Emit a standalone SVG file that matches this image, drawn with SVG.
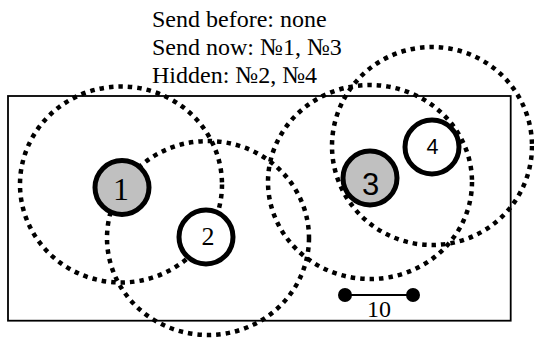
<svg xmlns="http://www.w3.org/2000/svg" width="534" height="338" viewBox="0 0 534 338">
  <style>
    .range { fill: none; stroke: #000; stroke-width: 4.5; stroke-dasharray: 4.5 5; }
    .node { stroke: #000; stroke-width: 5; }
    .active { fill: #c0c0c0; }
    .idle { fill: #fff; }
    text { fill: #000; }
    .rm { font-family: 'Liberation Serif', 'DejaVu Serif', 'Times New Roman', serif; }
    .sf { font-family: 'Liberation Sans', 'DejaVu Sans', Arial, sans-serif; }
  </style>

  <!-- status legend -->
  <g id="legend">
    <text class="rm" x="152" y="27" font-size="24">Send before: none</text>
    <text class="rm" x="152" y="54.5" font-size="24">Send now: №1, №3</text>
    <text class="rm" x="152" y="82.5" font-size="24">Hidden: №2, №4</text>
  </g>

  <!-- area boundary -->
  <rect id="area" x="8" y="96" width="502.7" height="224.7" fill="none" stroke="#000" stroke-width="1.8"/>

  <!-- transmission ranges -->
  <g id="ranges">
    <ellipse class="range" cx="121" cy="184.5" rx="101" ry="98"/>
    <ellipse class="range" cx="208" cy="238" rx="101" ry="97"/>
    <ellipse class="range" cx="370" cy="182" rx="102" ry="97"/>
    <ellipse class="range" cx="432" cy="146" rx="100" ry="99"/>
  </g>

  <!-- scale bar -->
  <g id="scale">
    <line x1="345" y1="295" x2="413" y2="295" stroke="#000" stroke-width="2"/>
    <circle cx="345" cy="295" r="7"/>
    <circle cx="413" cy="295" r="7"/>
    <text class="rm" x="379" y="317" font-size="24" text-anchor="middle">10</text>
  </g>

  <g id="node1">
    <circle class="node active" cx="122" cy="187.5" r="27"/>
    <text class="rm" x="121" y="200" font-size="32" text-anchor="middle">1</text>
  </g>
  <g id="node2">
    <circle class="node idle" cx="206" cy="237" r="27"/>
    <text class="rm" x="208" y="245" font-size="26" text-anchor="middle">2</text>
  </g>
  <g id="node3">
    <circle class="node active" cx="370" cy="178" r="27"/>
    <text class="sf" x="370.5" y="195" font-size="31" text-anchor="middle">3</text>
  </g>
  <g id="node4">
    <circle class="node idle" cx="432" cy="147" r="27"/>
    <text class="sf" x="432.5" y="154" font-size="21.5" text-anchor="middle">4</text>
  </g>
</svg>
